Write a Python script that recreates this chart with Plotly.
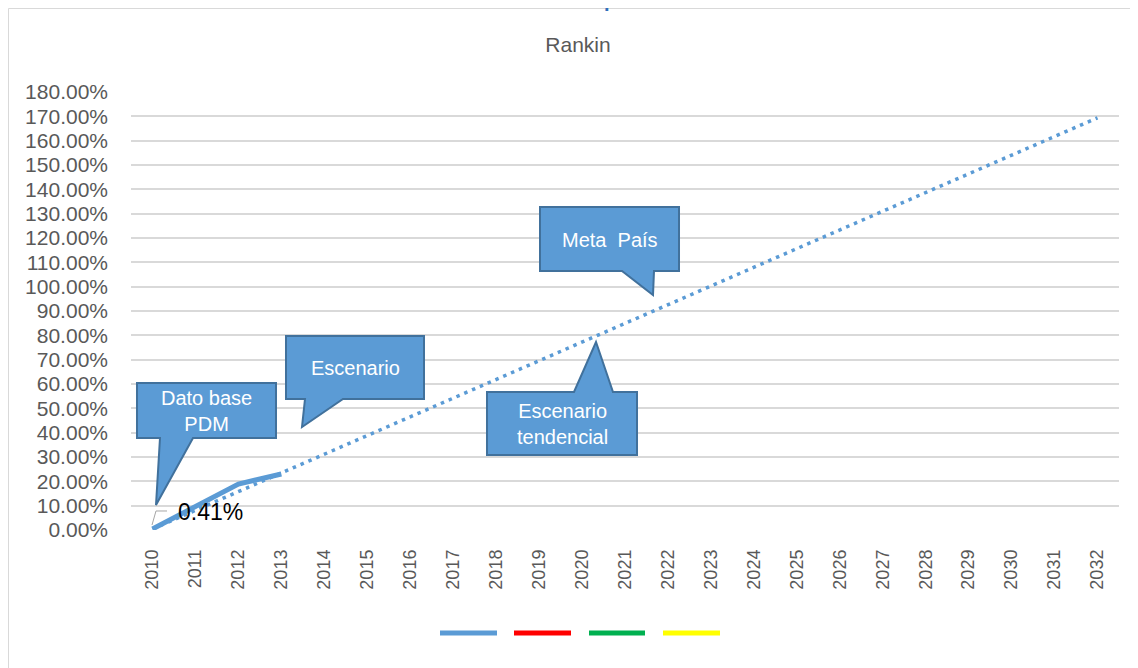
import plotly.graph_objects as go

# ---------------- data ----------------
years = [str(y) for y in range(2010, 2033)]
# Escenario (solid, observed) in %
escenario_years = ["2010", "2011", "2012", "2013"]
escenario_vals = [0.41, 9.6, 18.9, 23.0]
# Escenario tendencial (dotted) in %
tendencial_vals = [0.41, 8.1, 15.8, 23.4, 31.1, 38.8, 46.5, 54.2, 61.9, 69.5, 77.2,
                   84.9, 92.6, 100.3, 108.0, 115.6, 123.3, 131.0, 138.7, 146.4,
                   154.0, 161.7, 169.4]
y_ticks = [i * 10 for i in range(19)]
legend_colors = ["#5B9BD5", "#FF0000", "#00B050", "#FFFF00"]

# ---------------- layout geometry ----------------
W, H = 1138, 668
OFF = 8  # page body margin
ML, MT = 123, 84
PW, PH = 988, 438
MR, MB = W - ML - PW, H - MT - PH


def px(x):
    """screen pixel x -> paper x"""
    return (x - OFF - ML) / PW


def py(y):
    """screen pixel y -> paper y"""
    return (MT + PH - (y - OFF)) / PH


def path(points, close=True):
    s = "M " + " L ".join(f"{px(a):.5f},{py(b):.5f}" for a, b in points)
    return s + (" Z" if close else "")


BLUE = "#5B9BD5"
EDGE = "#41719C"
GRAY = "#595959"
FONT = "Liberation Sans, Arial, sans-serif"

fig = go.Figure()

fig.add_trace(go.Scatter(
    x=years, y=tendencial_vals, mode="lines",
    line=dict(color=BLUE, width=3.5, dash="3.5px,5px"),
    hoverinfo="skip", showlegend=False, name="Escenario tendencial"))

fig.add_trace(go.Scatter(
    x=escenario_years, y=escenario_vals, mode="lines",
    line=dict(color=BLUE, width=5),
    hoverinfo="skip", showlegend=False, name="Escenario"))

shapes = []
# chart border
shapes.append(dict(type="rect", xref="paper", yref="paper",
                   x0=px(8.5), x1=px(1136), y0=py(8.5), y1=py(680),
                   line=dict(color="#D9D9D9", width=1), fillcolor="rgba(0,0,0,0)",
                   layer="below"))

callouts = [
    [(137, 383), (276, 383), (276, 438), (193, 438), (156, 505), (160, 438), (137, 438)],
    [(286, 336), (424, 336), (424, 399), (343, 399), (302, 427), (305, 399), (286, 399)],
    [(540, 207), (679, 207), (679, 271), (654, 271), (653, 295), (622, 271), (540, 271)],
    [(487, 392), (574, 392), (596, 342), (613, 392), (637, 392), (637, 455), (487, 455)],
]
for c in callouts:
    shapes.append(dict(type="path", xref="paper", yref="paper", path=path(c),
                       fillcolor=BLUE, line=dict(color=EDGE, width=2)))

# leader line for data label
shapes.append(dict(type="path", xref="paper", yref="paper",
                   path=path([(152, 525), (156, 511), (167, 511)], close=False),
                   line=dict(color="#A6A6A6", width=1)))

# legend keys
leg_x = [(440, 497), (514, 571), (589, 645), (663, 720)]
for (a, b), col in zip(leg_x, legend_colors):
    shapes.append(dict(type="line", xref="paper", yref="paper",
                       x0=px(a), x1=px(b), y0=py(633), y1=py(633),
                       line=dict(color=col, width=5)))

annotations = []
txt_font = dict(family=FONT, size=20, color="white")
for text, (cx, cy) in [("Dato base<br>PDM", (206, 411)),
                       ("Escenario", (355, 368)),
                       ("Meta\u00a0 País", (610, 240)),
                       ("Escenario<br>tendencial", (562, 424))]:
    annotations.append(dict(text=text, xref="paper", yref="paper", x=px(cx), y=py(cy),
                            xanchor="center", yanchor="middle", showarrow=False,
                            font=txt_font))

# data label 0.41%
annotations.append(dict(text=f"{escenario_vals[0]:.2f}%", xref="paper", yref="paper",
                        x=px(176), y=py(512), xanchor="left", yanchor="middle",
                        showarrow=False,
                        font=dict(family=FONT, size=23, color="black")))

# fragment of cut-off heading above the chart
annotations.append(dict(text="<b>p</b>", xref="paper", yref="paper",
                        x=px(602.5), y=py(OFF + 4), xanchor="left", yanchor="bottom",
                        showarrow=False, borderpad=0,
                        font=dict(family=FONT, size=20, color="#2F6EBA")))

fig.update_layout(
    width=W, height=H,
    margin=dict(l=ML, r=MR, t=MT, b=MB),
    paper_bgcolor="white", plot_bgcolor="white",
    title=dict(text="Rankin", xref="container", yref="container",
               x=(578 - OFF) / W, y=1 - (45 - OFF) / H, xanchor="center", yanchor="middle",
               font=dict(family=FONT, size=21, color=GRAY)),
    shapes=shapes,
    annotations=annotations,
    showlegend=False,
    hovermode=False,
)

fig.update_xaxes(
    type="category", categoryorder="array", categoryarray=years,
    range=[-0.5, len(years) - 0.5],
    tickangle=-90, ticks="", showgrid=False, showline=False, zeroline=False,
    tickfont=dict(family=FONT, size=18, color=GRAY),
    ticklabelstandoff=15,
)
fig.update_yaxes(
    range=[0, 180], tickvals=y_ticks, ticktext=[f"{v:.2f}%" for v in y_ticks],
    showgrid=True, gridcolor="#D9D9D9", gridwidth=1.5, zeroline=False,
    showline=False, ticks="",
    tickfont=dict(family=FONT, size=21, color=GRAY),
    ticklabelstandoff=22,
)

fig.write_html("out.html")
